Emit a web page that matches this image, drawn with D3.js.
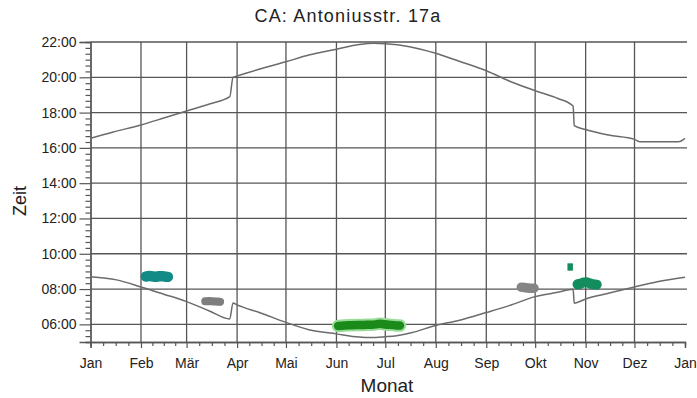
<!DOCTYPE html>
<html>
<head>
<meta charset="utf-8">
<script src="https://cdn.jsdelivr.net/npm/d3@7"></script>
<style>
  html, body { margin: 0; padding: 0; background: #fff; }
  svg { display: block; }
  text { font-family: "Liberation Sans", Arial, Helvetica, sans-serif; fill: #222; }
</style>
</head>
<body>
<svg id="chart" width="697" height="398"></svg>
<script>
// ---------- data ----------
const title = "CA: Antoniusstr. 17a";
const xTitle = "Monat";
const yTitle = "Zeit";

const monthLabels = ["Jan","Feb","Mär","Apr","Mai","Jun","Jul","Aug","Sep","Okt","Nov","Dez","Jan"];
const monthStartDays = [0,31,59,90,120,151,181,212,243,273,304,334,365];

const hourTicks = [6,8,10,12,14,16,18,20,22];
const hourLabels = ["06:00","08:00","10:00","12:00","14:00","16:00","18:00","20:00","22:00"];

// sunset (upper curve): day of year, hour
const sunsetDays  = [0, 14, 31, 45, 59, 73, 85.5, 87.5, 90, 104, 120, 134, 151, 165, 174, 181, 195, 212, 226, 243, 257, 273, 287, 296.3, 297, 304, 318, 334, 337, 361, 365];
const sunsetHours = [16.54, 16.90, 17.30, 17.69, 18.09, 18.49, 18.90, 20.00, 20.07, 20.47, 20.88, 21.26, 21.59, 21.86, 21.93, 21.90, 21.75, 21.36, 20.92, 20.37, 19.79, 19.24, 18.80, 18.37, 17.26, 17.04, 16.73, 16.48, 16.35, 16.35, 16.54];

// sunrise (lower curve): day of year, hour
const sunriseDays  = [0, 16, 31, 45, 59, 73, 85.5, 87.5, 90, 104, 120, 134, 151, 165, 172, 181, 188, 197, 212, 226, 243, 257, 273, 287, 296.3, 297, 304, 318, 334, 348, 365];
const sunriseHours = [8.70, 8.52, 8.12, 7.71, 7.29, 6.76, 6.31, 7.21, 7.10, 6.66, 6.11, 5.70, 5.46, 5.28, 5.25, 5.30, 5.36, 5.52, 5.94, 6.22, 6.67, 7.06, 7.57, 7.82, 7.99, 7.20, 7.44, 7.76, 8.12, 8.42, 8.67];

// measured clusters: day of year, hour
const febDays  = [34, 36, 38, 40, 42, 44, 46, 47.5];
const febHours = [8.71, 8.74, 8.72, 8.70, 8.72, 8.73, 8.70, 8.69];

const marDays  = [70.5, 73, 75.5, 78, 79.5];
const marHours = [7.31, 7.32, 7.30, 7.29, 7.28];

const junDays  = [152, 156, 160, 164, 168, 172, 175, 177.5, 180, 184, 188, 190];
const junHours = [5.91, 5.94, 5.95, 5.96, 5.97, 5.98, 6.00, 6.04, 6.01, 5.97, 5.94, 5.93];

const octDays  = [264.5, 266.5, 268.5, 270.5, 272.3];
const octHours = [8.10, 8.09, 8.06, 8.05, 8.05];

const novDays  = [299, 301, 303, 304.5, 306.5, 308.5, 310.8];
const novHours = [8.27, 8.31, 8.38, 8.39, 8.32, 8.28, 8.25];

const novSingleDays  = [294.5];
const novSingleHours = [9.25];

// ---------- chart ----------
const svg = d3.select("#chart");
svg.append("rect").attr("width", 697).attr("height", 398).attr("fill", "#fff");

const x = d3.scaleLinear().domain([0, 365]).range([90.5, 685]);
const y = d3.scaleLinear().domain([5, 22]).range([342, 42]);

const gridColor = "#565656";

// horizontal grid
svg.append("g").selectAll("line").data(hourTicks).join("line")
  .attr("x1", x(0)).attr("x2", 687)
  .attr("y1", d => y(d)).attr("y2", d => y(d))
  .attr("stroke", gridColor).attr("stroke-width", 1.3);

// vertical grid
svg.append("g").selectAll("line").data(monthStartDays.slice(1, -1)).join("line")
  .attr("x1", d => x(d)).attr("x2", d => x(d))
  .attr("y1", y(22)).attr("y2", y(5))
  .attr("stroke", gridColor).attr("stroke-width", 1.3);

// minor ticks
const minorHours = d3.range(5, 22.001, 1/3).filter(h => Math.abs(h - Math.round(h)) > 0.01 || Math.round(h) % 2 === 1);
const minorDays = [];
for (let i = 0; i < 12; i++) {
  const s = monthStartDays[i], L = monthStartDays[i + 1] - s;
  minorDays.push(s + L / 4, s + L / 2, s + 3 * L / 4);
}

const yMinor = svg.append("g").attr("transform", `translate(${x(0)},0)`)
  .call(d3.axisLeft(y).tickValues(minorHours).tickSize(5).tickFormat(""));
const yAxis = svg.append("g").attr("transform", `translate(${x(0)},0)`)
  .call(d3.axisLeft(y).tickValues(hourTicks).tickSize(11).tickPadding(3)
    .tickFormat((d, i) => hourLabels[i]));

const xMinor = svg.append("g").attr("transform", `translate(0,${y(5)})`)
  .call(d3.axisBottom(x).tickValues(minorDays).tickSize(4).tickFormat(""));
const xAxis = svg.append("g").attr("transform", `translate(0,${y(5)})`)
  .call(d3.axisBottom(x).tickValues(monthStartDays).tickSize(6).tickPadding(10)
    .tickFormat((d, i) => monthLabels[i]));

[yMinor, yAxis, xMinor, xAxis].forEach(g => {
  g.selectAll(".domain").attr("stroke", gridColor).attr("stroke-width", 1.3);
  g.selectAll(".tick line").attr("stroke", gridColor).attr("stroke-width", 1.2);
  g.selectAll(".tick text").attr("fill", "#222").style("font-size", "14px")
    .style("font-family", "'Liberation Sans', Arial, sans-serif");
});

// curves
const line = d3.line().x(d => x(d[0])).y(d => y(d[1])).curve(d3.curveMonotoneX);
const sunset = sunsetDays.map((d, i) => [d, sunsetHours[i]]);
const sunrise = sunriseDays.map((d, i) => [d, sunriseHours[i]]);
[sunset, sunrise].forEach(s => {
  svg.append("path").datum(s).attr("d", line)
    .attr("fill", "none").attr("stroke", "#6b6b6b").attr("stroke-width", 1.5);
});

// clusters (dense measurement points drawn as thick rounded traces)
function cluster(days, hours, color, w, halo, haloW) {
  const pts = days.map((d, i) => [d, hours[i]]);
  if (halo) {
    svg.append("path").datum(pts).attr("d", line).attr("fill", "none")
      .attr("stroke", halo).attr("stroke-width", haloW)
      .attr("stroke-linecap", "round").attr("stroke-linejoin", "round");
  }
  svg.append("path").datum(pts).attr("d", line).attr("fill", "none")
    .attr("stroke", color).attr("stroke-width", w)
    .attr("stroke-linecap", "round").attr("stroke-linejoin", "round");
}
cluster(febDays, febHours, "#128a86", 10.5);
cluster(marDays, marHours, "#7e7e7e", 8.2);
cluster(junDays, junHours, "#1a8a1a", 8.5, "#98dc98", 12.5);
cluster(octDays, octHours, "#858585", 9.5);
cluster(novDays, novHours, "#138c5e", 10);

svg.append("g").selectAll("path").data(novSingleDays.map((d, i) => [d, novSingleHours[i]])).join("path")
  .attr("transform", d => `translate(${x(d[0])},${y(d[1])}) scale(1,1.35)`)
  .attr("d", d3.symbol(d3.symbolSquare, 30))
  .attr("fill", "#138c5e");

// titles
svg.append("text").attr("x", 348).attr("y", 22).attr("text-anchor", "middle")
  .style("font-size", "18px").style("letter-spacing", "1.2px").text(title);
svg.append("text").attr("x", 387).attr("y", 392).attr("text-anchor", "middle")
  .style("font-size", "19px").text(xTitle);
svg.append("text").attr("transform", "translate(26,201) rotate(-90)").attr("text-anchor", "middle")
  .style("font-size", "18px").text(yTitle);
</script>
</body>
</html>
